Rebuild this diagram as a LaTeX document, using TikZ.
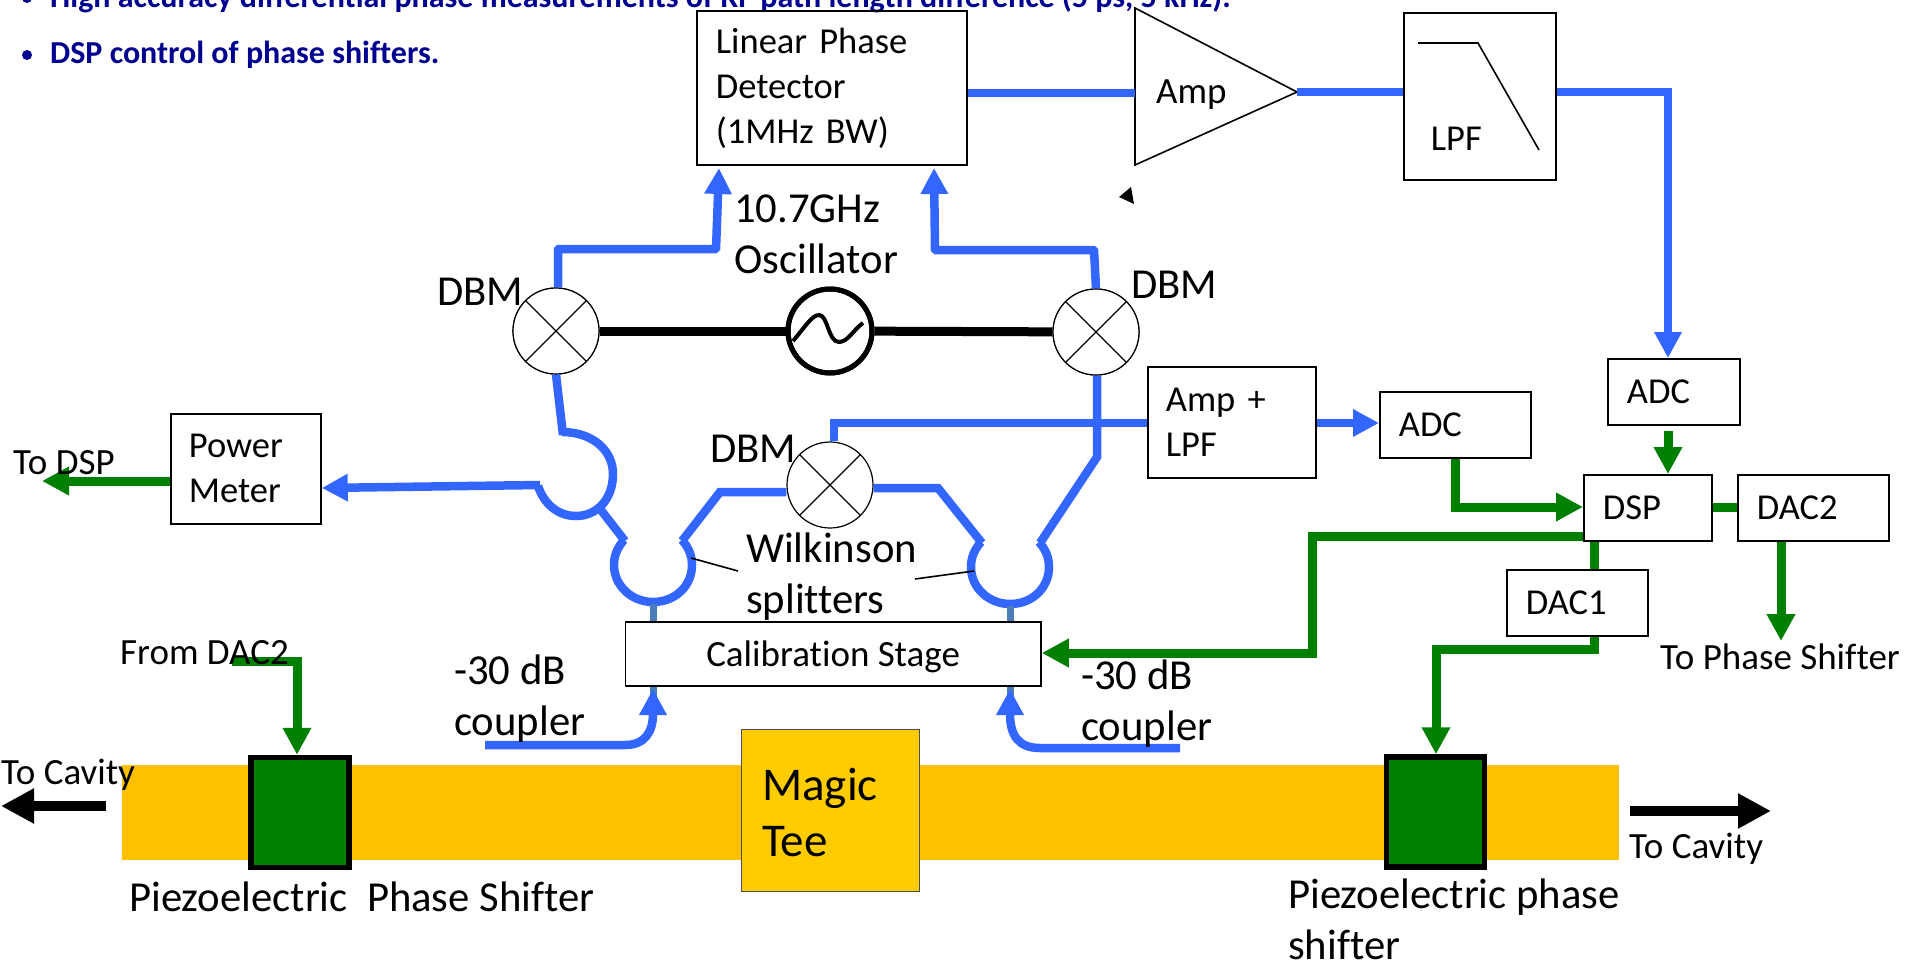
\documentclass[tikz,border=0pt]{standalone}
\usepackage{fontspec}
\setmainfont{Carlito}[Ligatures=NoCommon]
\usetikzlibrary{arrows.meta,calc}

\definecolor{sigblue}{HTML}{3366FF}
\definecolor{stemblue}{HTML}{4A7EBB}
\definecolor{siggreen}{HTML}{007F00}
\definecolor{guide}{HTML}{FFC000}
\definecolor{teegold}{HTML}{FFCC00}
\definecolor{slidetext}{HTML}{000090}

\begin{document}
\begin{tikzpicture}[
    x=1pt, y=-1pt,
    box/.style n args={3}{rectangle, draw, line width=1.8pt, anchor=north west, align=left,
        inner xsep=#3, inner ysep=0pt, text width={#1-2*(#3)}, minimum height=#2,
        font=\fontsize{36.5}{45}\selectfont},
    lbl/.style={anchor=west, align=left, inner sep=0pt, font=\fontsize{37}{45}\selectfont},
    biglbl/.style={anchor=west, align=left, inner sep=0pt, font=\fontsize{42.7}{51}\selectfont},
    slide/.style={anchor=west, inner sep=0pt, text=slidetext, font=\fontsize{32}{38}\selectfont\bfseries},
    mixer/.style={circle, draw, line width=1.2pt, fill=white, minimum size=86pt, inner sep=0pt,
        path picture={\draw[line width=1.2pt] (path picture bounding box.north west) -- (path picture bounding box.south east)
            (path picture bounding box.north east) -- (path picture bounding box.south west);}},
    piezo/.style={rectangle, draw, line width=5.5pt, fill=siggreen, minimum width=98pt, minimum height=110pt, inner sep=0pt},
    blueline/.style={draw=sigblue, line width=8.5pt},
    greenline/.style={draw=siggreen, line width=9pt},
    stem/.style={draw=stemblue, line width=7pt},
    bluearrow/.style={blueline, -{Triangle[length=26pt,width=26pt,fill=sigblue]}},
    greenarrow/.style={greenline, -{Triangle[length=27pt,width=27pt,fill=siggreen]}},
    blackarrow/.style={draw=black, line width=10pt, -{Triangle[length=33pt,width=33pt]}}
]
    \useasboundingbox (0,0) rectangle (1909,961);
    \clip (0,0) rectangle (1909,961);

    % waveguide
    \fill[guide] (121.5,765) rectangle (1619,860);
    \node[rectangle, draw=black!70, line width=1pt, fill=teegold, minimum width=178pt, minimum height=162pt, inner sep=0pt] (tee) at (830,810) {};
    \node[anchor=west, align=left, inner sep=0pt, font=\fontsize{47}{56}\selectfont] (teetext) at (762,812) {Magic\\Tee};
    \node[piezo] (piezoL) at (300,812.5) {};
    \node[piezo] (piezoR) at (1435.5,812) {};

    % slide text behind the picture
    \node[slide] (bullet1) at (50,-2) {High accuracy differential phase measurements of RF path length difference (5 ps, 5 kHz).};
    \node[slide] (bullet2) at (50,55) {DSP control of phase shifters.};
    \fill[slidetext] (27,-2) circle (5) (27,55) circle (5);

    % boxes
    \node[box={270pt}{154pt}{19pt}] (lpd) at (696,10) {Linear Phase\\Detector\\(1MHz BW)};
    \node[box={152pt}{167pt}{27pt}] (lpf) at (1403,12) {\rule{0pt}{0pt}\\[64pt]LPF};
    \node[box={168pt}{111pt}{18pt}] (amplpf) at (1147,366) {Amp +\\LPF};
    \node[box={151pt}{66pt}{19pt}] (adcA) at (1379,391) {ADC};
    \node[box={132pt}{66pt}{19pt}] (adcB) at (1607,358) {ADC};
    \node[box={128pt}{66pt}{19pt}] (dsp) at (1583,474) {DSP};
    \node[box={151pt}{66pt}{19pt}] (dacB) at (1737,474) {DAC2};
    \node[box={141pt}{66pt}{19pt}] (dacA) at (1506,569) {DAC1};
    \node[box={150pt}{110pt}{18pt}] (power) at (170,413) {Power\\Meter};
    \node[box={415.5pt}{64pt}{0pt}] (calib) at (624.5,621) {};
    \node[lbl, anchor=center] (calibtext) at (calib.center) [yshift=-3pt] {Calibration Stage};

    % amplifier
    \coordinate (ampA) at (1135,8);
    \coordinate (ampB) at (1135,165);
    \coordinate (ampout) at (1297,92);
    \draw[line width=1.6pt] (ampA) -- (ampout) -- (ampB) -- cycle;
    \node[lbl] (amptext) at (1156,95) {Amp};
    \coordinate (ampin) at (1135,93);
    \draw[line width=1.6pt] (1418,43) -- (1478,43) -- (1539,150);
    \fill (1119,197) -- (1131,187) -- (1134,204) -- cycle;

    % mixers and oscillator
    \node[mixer] (dbmL) at (556,331) {};
    \node[mixer] (dbmR) at (1096,332) {};
    \node[mixer] (dbmC) at (830,485) {};
    \node[circle, draw, line width=5pt, fill=white, minimum size=84pt, inner sep=0pt] (osc) at (830,331) {};
    \draw[line width=4pt, shift={(osc.center)}] (-37,10) .. controls (-25,-4) and (-18,-16) .. (-11,-16)
        .. controls (-2,-16) and (-2,11) .. (9,11) .. controls (18,11) and (24,-2) .. (33,-8);
    \draw[line width=9pt] (dbmL) -- (osc);
    \draw[line width=9pt] (osc) -- (dbmR);
    \node[mixer] at (dbmL) {};
    \node[mixer] at (dbmR) {};
    \node[circle, draw, line width=5pt, minimum size=84pt, inner sep=0pt] at (osc) {};

    % blue signal paths
    \draw[bluearrow, rounded corners=1pt] (dbmL.north -| 558,0) -- (558,249) -- (716,249) -- (719,168);
    \draw[bluearrow, rounded corners=1pt] (dbmR.north) -- (1094,250) -- (935,250) -- (934,168);
    \draw[blueline] (lpd.east |- 0,93) -- (ampin);
    \draw[blueline] (ampout) -- (lpf.west |- 0,92);
    \draw[bluearrow] (lpf.east |- 0,92) -- (1668,92) -- (adcB.north -| 1668,0);
    \draw[blueline] (dbmL.south) -- (563,435);
    \draw[blueline] (562,432) .. controls (592,432) and (613,450) .. (613,474)
        .. controls (613,499) and (597,516) .. (576,516) .. controls (558,516) and (544,504) .. (538,486);
    \draw[bluearrow] (540,485) -- (power.east |- 0,488);
    \draw[blueline] (597,505) -- (625,541);

    % wilkinson splitters
    \draw[blueline] (624,540) .. controls (617,548) and (614,556) .. (614,565) .. controls (614,586) and (632,602) .. (653,602)
        .. controls (675,602) and (692,586) .. (692,565) .. controls (692,556) and (689,548) .. (682,540);
    \draw[blueline] (981,542) .. controls (974,550) and (971,558) .. (971,567) .. controls (971,588) and (989,604) .. (1010,604)
        .. controls (1032,604) and (1049,588) .. (1049,567) .. controls (1049,558) and (1046,550) .. (1039,542);
    \draw[blueline] (682,541) -- (720,492) -- (dbmC.west |- 0,492);
    \draw[blueline] (dbmC.east |- 0,488) -- (938,488) -- (982,543);
    \draw[blueline] (1040,543) -- (1097,457) -- (dbmR.south -| 1097,0);
    \draw[blueline] (dbmC.north -| 834,0) -- (834,423) -- (amplpf.west |- 0,423);
    \draw[bluearrow] (amplpf.east |- 0,423) -- (adcA.west |- 0,423);
    \draw[stem] (653,604) -- (calib.north -| 653,0);
    \draw[stem] (1010,606) -- (calib.north -| 1010,0);
    \draw[stem] (calib.south -| 653,0) -- (653,697);
    \draw[stem] (calib.south -| 1010,0) -- (1010,697);
    \draw[bluearrow] (485,745) -- (625,745) .. controls (645,745) and (653,732) .. (653,689);
    \draw[bluearrow] (1180,748) -- (1040,748) .. controls (1018,748) and (1010,735) .. (1010,689);

    % wilkinson leaders
    \draw[line width=1.6pt] (691,558) -- (738,571);
    \draw[line width=1.6pt] (915,579) -- (974,571);

    % green control paths
    \draw[greenarrow] (adcB.south -| 1668,0) ++(0,5) -- (dsp.north -| 1668,0);
    \draw[greenarrow] (adcA.south -| 1455,0) -- (1455,507) -- (dsp.west |- 0,507);
    \draw[greenline] (dsp) -- (dacB);
    \draw[greenarrow] (dsp.west |- 0,536) -- (1312,536) -- (1312,653) -- (calib.east |- 0,653);
    \draw[greenline] (dsp.south -| 1594,0) -- (dacA.north -| 1594,0);
    \draw[greenarrow] (dacA.south -| 1594,0) -- (1594,649) -- (1436,649) -- (piezoR.north -| 1436,0);
    \draw[greenarrow] (dacB.south -| 1781,0) -- (1781,641);
    \draw[greenarrow] (232,661) -- (297,661) -- (piezoL.north -| 297,0);
    \draw[greenarrow] (power.west |- 0,481) -- (42,481);

    % arrows to the cavity
    \draw[blackarrow] (106,806) -- (1,806);
    \draw[blackarrow] (1630,811) -- (1771,811);

    % labels
    \node[biglbl] (osctext) at (734,234) {10.7GHz\\Oscillator};
    \node[biglbl] (dbmLtext) at (437,292) {DBM};
    \node[biglbl] (dbmRtext) at (1131,285) {DBM};
    \node[biglbl] (dbmCtext) at (710,449) {DBM};
    \node[biglbl] (wilktext) at (746,577) {Wilkinson\\splitters};
    \node[biglbl] (couplerL) at (454,699) {-30 dB\\coupler};
    \node[biglbl] (couplerR) at (1081,704) {-30 dB\\coupler};
    \node[biglbl] (psL) at (129,897) {Piezoelectric~~Phase Shifter};
    \node[biglbl] (psR) at (1288,919) {Piezoelectric phase\\shifter};
    \node[lbl] (todsp) at (13,463) {To DSP};
    \node[lbl] (fromdac) at (120,653) {From DAC2};
    \node[lbl] (cavL) at (1,775) {To Cavity};
    \node[lbl] (cavR) at (1629,849) {To Cavity};
    \node[lbl] (tops) at (1660,657) {To Phase Shifter};
\end{tikzpicture}
\end{document}
